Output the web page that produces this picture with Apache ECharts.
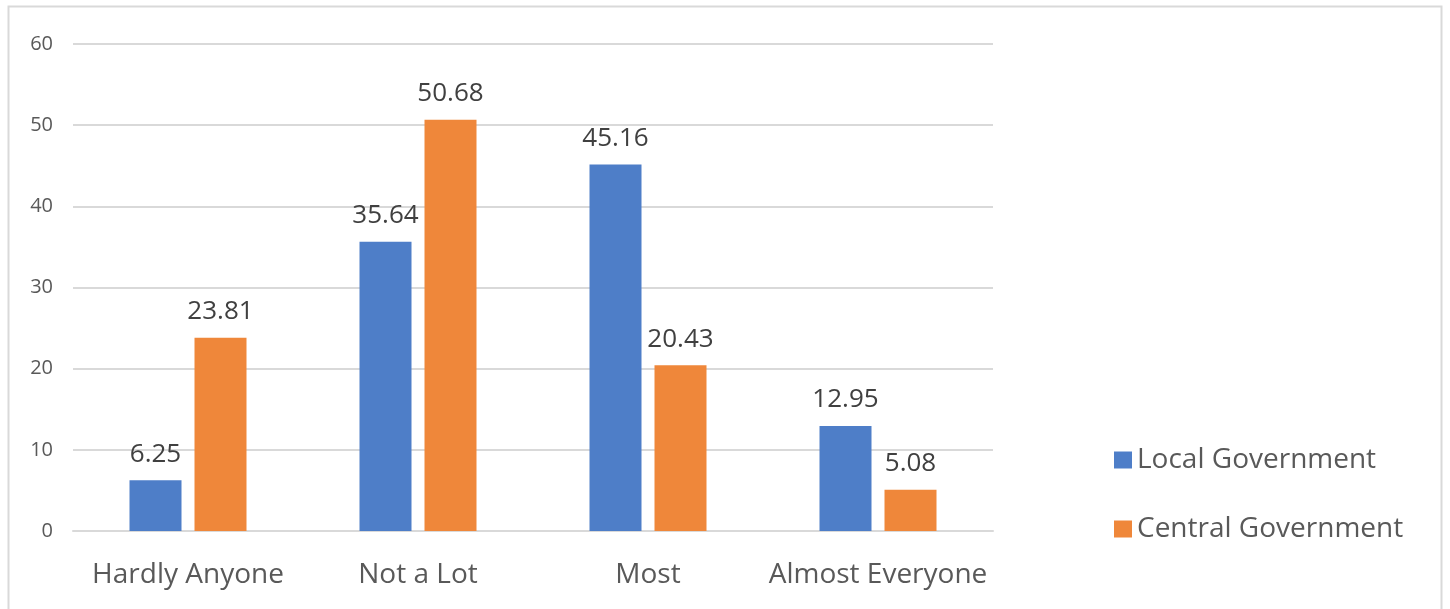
<!DOCTYPE html>
<html><head><meta charset="utf-8">
<script src="https://cdn.jsdelivr.net/npm/echarts@6/dist/echarts.min.js"></script>
<style>html,body{margin:0;padding:0;background:#fff}#c{width:1450px;height:609px}</style>
</head><body><div id="c"></div>
<script>
const categories = ['Hardly Anyone', 'Not a Lot', 'Most', 'Almost Everyone'];
const localGov = [6.25, 35.64, 45.16, 12.95];
const centralGov = [23.81, 50.68, 20.43, 5.08];
const seriesNames = ['Local Government', 'Central Government'];
const FONT = '"Open Sans", sans-serif';
const chart = echarts.init(document.getElementById('c'), null, {renderer: 'canvas'});
chart.setOption({
  animation: false,
  textStyle: {fontFamily: FONT},
  graphic: [{type: 'rect', shape: {x: 8.5, y: 6.5, width: 1433, height: 640}, style: {fill: 'none', stroke: '#d9d9d9', lineWidth: 2}, silent: true}],
  grid: {left: 73, right: 457, top: 44, bottom: 78},
  legend: {
    orient: 'vertical', left: 1109, top: 441, itemWidth: 18, itemHeight: 17, itemGap: 41,
    icon: 'rect',
    textStyle: {fontSize: 28, color: '#595959', fontFamily: FONT},
    data: seriesNames
  },
  xAxis: {
    type: 'category', data: categories,
    axisLine: {lineStyle: {color: '#d9d9d9', width: 2}}, axisTick: {show: false},
    axisLabel: {interval: 0, fontSize: 28, color: '#595959', margin: 30, fontFamily: FONT}
  },
  yAxis: {
    type: 'value', min: 0, max: 60, interval: 10,
    axisLine: {show: false}, axisTick: {show: false},
    splitLine: {lineStyle: {color: '#d9d9d9', width: 2}},
    axisLabel: {fontSize: 20, color: '#595959', margin: 20, fontFamily: FONT}
  },
  series: [
    {name: seriesNames[0], type: 'bar', data: localGov, barWidth: 52, barGap: '25%', itemStyle: {color: '#4e7ec8'},
     label: {show: true, position: 'top', distance: 13, fontSize: 26, color: '#404040', fontFamily: FONT}},
    {name: seriesNames[1], type: 'bar', data: centralGov, barWidth: 52, itemStyle: {color: '#ef873a'},
     label: {show: true, position: 'top', distance: 13, fontSize: 26, color: '#404040', fontFamily: FONT}}
  ]
});
</script></body></html>
